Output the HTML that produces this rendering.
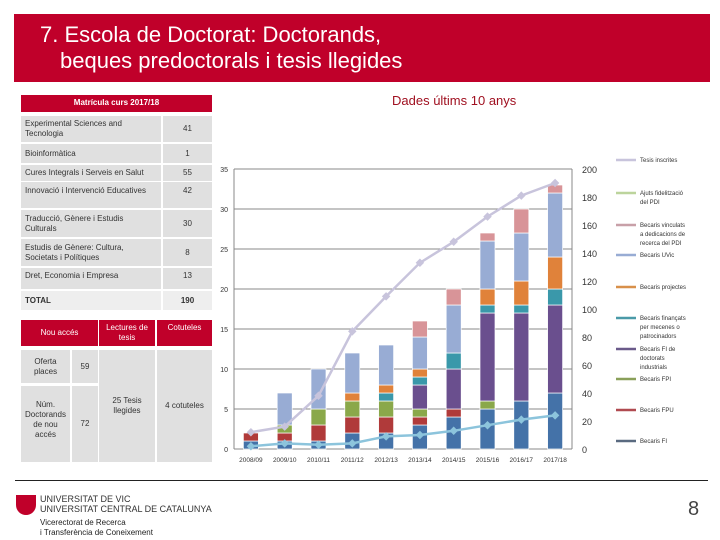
<!DOCTYPE html>
<html><head><meta charset="utf-8"><style>
body{margin:0;width:720px;height:540px;position:relative;background:#fff;font-family:"Liberation Sans",sans-serif;overflow:hidden}
.a{position:absolute;box-sizing:border-box}
.c{background:#e0e0e0;font-size:8px;color:#333;display:flex;align-items:center;padding:0 4px;line-height:1.25}
.r{background:#c0002a;color:#fff;font-size:8px;display:flex;align-items:center;justify-content:center;text-align:center;line-height:1.3}
.v{justify-content:center;text-align:center}
</style></head><body>
<div class="a" style="left:14px;top:14px;width:696px;height:68px;background:#c0002a;color:#fff;font-size:22px;line-height:26px;padding:8px 0 0 26px">7. Escola de Doctorat: Doctorands,<br><span style="padding-left:20px">beques predoctorals i tesis llegides</span></div>
<div class="a" style="left:392px;top:93px;font-size:13px;color:#a01020">Dades últims 10 anys</div>

<div class="a r" style="left:21px;top:95px;width:191px;height:17px;font-weight:bold">Matrícula curs 2017/18</div>
<div class="a c" style="left:21px;top:116px;width:140px;height:26px">Experimental Sciences and Tecnologia</div><div class="a c v" style="left:163px;top:116px;width:49px;height:26px">41</div>
<div class="a c" style="left:21px;top:144px;width:140px;height:19px">Bioinformàtica</div><div class="a c v" style="left:163px;top:144px;width:49px;height:19px">1</div>
<div class="a c" style="left:21px;top:165px;width:140px;height:16px">Cures Integrals i Serveis en Salut</div><div class="a c v" style="left:163px;top:165px;width:49px;height:16px">55</div>
<div class="a c" style="left:21px;top:182px;width:140px;height:26px;align-items:flex-start;padding-top:4px">Innovació i Intervenció Educatives</div><div class="a c v" style="left:163px;top:182px;width:49px;height:26px;align-items:flex-start;padding-top:4px">42</div>
<div class="a c" style="left:21px;top:210px;width:140px;height:27px">Traducció, Gènere i Estudis Culturals</div><div class="a c v" style="left:163px;top:210px;width:49px;height:27px">30</div>
<div class="a c" style="left:21px;top:239px;width:140px;height:27px">Estudis de Gènere: Cultura, Societats i Polítiques</div><div class="a c v" style="left:163px;top:239px;width:49px;height:27px">8</div>
<div class="a c" style="left:21px;top:268px;width:140px;height:21px;align-items:flex-start;padding-top:3px">Dret, Economia i Empresa</div><div class="a c v" style="left:163px;top:268px;width:49px;height:21px;align-items:flex-start;padding-top:3px">13</div>
<div class="a c" style="left:21px;top:291px;width:140px;height:19px;font-weight:bold;background:#eee">TOTAL</div><div class="a c v" style="left:163px;top:291px;width:49px;height:19px;font-weight:bold;background:#eee">190</div>

<div class="a r" style="left:21px;top:320px;width:77px;height:26px">Nou accés</div>
<div class="a r" style="left:99px;top:320px;width:56px;height:26px">Lectures de tesis</div>
<div class="a r" style="left:157px;top:320px;width:55px;height:26px;align-items:flex-start;padding-top:3px">Cotuteles</div>
<div class="a c v" style="left:21px;top:350px;width:49px;height:33px">Oferta places</div>
<div class="a c v" style="left:72px;top:350px;width:26px;height:33px">59</div>
<div class="a c v" style="left:21px;top:386px;width:49px;height:76px;align-items:flex-start;padding-top:14px">Núm. Doctorands de nou accés</div>
<div class="a c v" style="left:72px;top:386px;width:26px;height:76px">72</div>
<div class="a c v" style="left:99px;top:350px;width:56px;height:112px">25 Tesis llegides</div>
<div class="a c v" style="left:157px;top:350px;width:55px;height:112px">4 cotuteles</div>

<svg class="a" id="chart" style="left:0;top:0" width="720" height="540"></svg>

<div class="a" style="left:15px;top:480px;width:693px;height:1px;background:#222"></div>
<div class="a" style="left:16px;top:495px;width:20px;height:20px;background:#c0002a;border-radius:0 0 10px 10px"></div>
<div class="a" style="left:40px;top:494px;font-size:9px;color:#333;line-height:10px">UNIVERSITAT DE VIC<br>UNIVERSITAT CENTRAL DE CATALUNYA</div>
<div class="a" style="left:40px;top:518px;font-size:8px;color:#222;line-height:10px">Vicerectorat de Recerca<br>i Transferència de Coneixement</div>
<div class="a" style="left:688px;top:498px;font-size:20px;color:#444">8</div>

<script>
const years=["2008/09","2009/10","2010/11","2011/12","2012/13","2013/14","2014/15","2015/16","2016/17","2017/18"];
const fi=[1,1,1,2,2,3,4,5,6,7];
const fpu=[1,1,2,2,2,1,1,0,0,0];
const fpi=[0,1,2,2,2,1,0,1,0,0];
const industrials=[0,0,0,0,0,3,5,11,11,11];
const mecenes=[0,0,0,0,1,1,2,1,1,2];
const projectes=[0,0,0,1,1,1,0,2,3,4];
const uvic=[0,4,5,5,5,4,6,6,6,8];
const vinculats=[0,0,0,0,0,2,2,1,3,1];
const tesisInscrites=[12,16,38,84,109,133,148,166,181,190];
const ajutsPdi=[2,4,3,4,9,10,13,17,21,24];
const leftTicks=[0,5,10,15,20,25,30,35];
const rightTicks=[0,20,40,60,80,100,120,140,160,180,200];
const series=[[fi,"#4472a8","Becaris FI"],[fpu,"#b03a3a","Becaris FPU"],[fpi,"#8aa84a","Becaris FPI"],[industrials,"#6a4f8e","Becaris FI de doctorats industrials"],[mecenes,"#3a98aa","Becaris finançats per mecenes o patrocinadors"],[projectes,"#e0823a","Becaris projectes"],[uvic,"#98acd4","Becaris UVic"],[vinculats,"#d89498","Becaris vinculats a dedicacions de recerca del PDI"]];
const NS="http://www.w3.org/2000/svg",svg=document.getElementById("chart");
const x0=234,x1=572,y0=449,yTop=169;
const yL=v=>y0-(v/35)*(y0-yTop), yR=v=>y0-(v/200)*(y0-yTop);
const step=(x1-x0)/years.length, xc=i=>x0+step*(i+0.5);
function el(t,a,txt){const e=document.createElementNS(NS,t);for(const k in a)e.setAttribute(k,a[k]);if(txt!==undefined)e.textContent=txt;svg.appendChild(e);return e;}
leftTicks.forEach(t=>{const g=el("line",{x1:x0,x2:x1,y1:yL(t),y2:yL(t),stroke:"#888","stroke-width":1});


const l=el("text",{x:x0-6,y:yL(t)+3,"font-size":7,"text-anchor":"end",fill:"#333"},t);

});
rightTicks.forEach(t=>{const l=el("text",{x:582,y:yR(t)+4,"font-size":9,fill:"#333"},t);

});
el("line",{x1:x0,x2:x0,y1:yTop,y2:y0,stroke:"#888"});
el("line",{x1:x1,x2:x1,y1:yTop,y2:y0,stroke:"#888"});
years.forEach((yr,i)=>{let acc=0;
series.forEach(([arr,col])=>{const v=arr[i];if(v>0){const r=el("rect",{x:xc(i)-7.5,y:yL(acc+v),width:15,height:yL(acc)-yL(acc+v),fill:col,stroke:"#fff","stroke-width":0.7});

}acc+=v;});
const l=el("text",{x:xc(i),y:462,"font-size":6.5,"text-anchor":"middle",fill:"#333"},yr);

});
function line(arr,col,name){const p=el("polyline",{points:arr.map((v,i)=>xc(i)+","+yR(v)).join(" "),fill:"none",stroke:col,"stroke-width":2.5});


arr.forEach((v,i)=>{const m=el("rect",{x:xc(i)-3,y:yR(v)-3,width:6,height:6,fill:col,transform:`rotate(45 ${xc(i)} ${yR(v)})`});

});}
line(tesisInscrites,"#c8c4dc","tesis-inscrites-line");
line(ajutsPdi,"#8cc4dc","ajuts-pdi-line");
const leg=[["Tesis inscrites","#c8c4dc",160],["Ajuts fidelització del PDI","#bcd49c",193],["Becaris vinculats a dedicacions de recerca del PDI","#c8a0a8",225],["Becaris UVic","#98acd4",255],["Becaris projectes","#d8904a",287],["Becaris finançats per mecenes o patrocinadors","#4a9aa8",318],["Becaris FI de doctorats industrials","#6a5a8a",349],["Becaris FPI","#8aa05a",379],["Becaris FPU","#b04a50",410],["Becaris FI","#5a6a80",441]];
leg.forEach(([t,c,y])=>{const s=el("line",{x1:616,x2:636,y1:y,y2:y,stroke:c,"stroke-width":2.5});


const words=t.split(" ");let lines=[],cur="";words.forEach(w=>{if((cur+" "+w).length>18&&cur){lines.push(cur);cur=w}else cur=cur?cur+" "+w:w});lines.push(cur);
lines.forEach((ln,k)=>{const tx=el("text",{x:640,y:y+2+k*9,"font-size":6,fill:"#333"},ln);

});});
</script>
</body></html>
